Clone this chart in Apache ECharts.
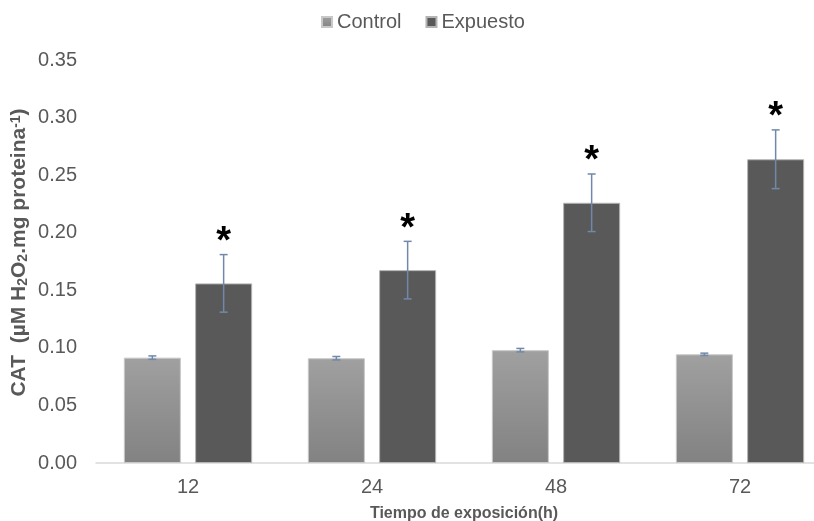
<!DOCTYPE html>
<html>
<head>
<meta charset="utf-8">
<script src="https://cdn.jsdelivr.net/npm/echarts@6/dist/echarts.min.js"></script>
<style>
  html, body { margin: 0; padding: 0; background: #ffffff; }
  #chart { width: 814px; height: 521px; }
</style>
</head>
<body>
<div id="chart"></div>
<script>
// Exposure times (h)
const categories = ['12', '24', '48', '72'];
// CAT activity (µM H2O2 . mg proteina^-1)
const controlValues = [0.0915, 0.0910, 0.0980, 0.0944];
const controlErrors = [0.0015, 0.0015, 0.0015, 0.0010];
const exposedValues = [0.156, 0.1675, 0.226, 0.2638];
const exposedErrors = [0.025, 0.025, 0.025, 0.0255];
// significance marks drawn above the exposed bars
const exposedMarks = ['*', '*', '*', '*'];
const yTicks = { min: 0, max: 0.35, interval: 0.05 };

const textColor = '#595959';
const errColor = '#7189a8';
const font = 'Arial, "Liberation Sans", Helvetica, sans-serif';

const BAR_W = 0.31;     // bar width as a share of the category band
const BAR_GAP = 0.25;   // gap between the two bars, as a share of bar width
const OFFSET = BAR_W / 2 + BAR_W * BAR_GAP / 2;

function errorSeries(values, errors, marks, sign) {
  const data = values.map((v, i) => [i, v - errors[i], v + errors[i], marks ? marks[i] : '']);
  return {
    type: 'custom',
    silent: true,
    z: 5,
    data: data,
    encode: { x: 0, y: [1, 2] },
    renderItem: function (params, api) {
      const i = api.value(0);
      const lo = api.coord([i, api.value(1)]);
      const hi = api.coord([i, api.value(2)]);
      const band = api.size([1, 0])[0];
      const x = lo[0] + sign * band * OFFSET;
      const cap = 4;
      const style = { stroke: errColor, lineWidth: 1.5 };
      const children = [
        { type: 'line', shape: { x1: x, y1: hi[1], x2: x, y2: lo[1] }, style: style },
        { type: 'line', shape: { x1: x - cap, y1: hi[1], x2: x + cap, y2: hi[1] }, style: style },
        { type: 'line', shape: { x1: x - cap, y1: lo[1], x2: x + cap, y2: lo[1] }, style: style }
      ];
      const mark = data[params.dataIndex][3];
      if (mark) {
        children.push({
          type: 'text',
          style: {
            text: mark, x: x, y: hi[1] - 31,
            fill: '#000000', font: 'bold 38px ' + font,
            textAlign: 'center', textVerticalAlign: 'top'
          }
        });
      }
      return { type: 'group', children: children };
    }
  };
}

const chart = echarts.init(document.getElementById('chart'), null, { renderer: 'canvas' });

chart.setOption({
  animation: false,
  backgroundColor: '#ffffff',
  textStyle: { fontFamily: font },
  legend: {
    top: 7,
    left: 316,
    itemWidth: 10,
    itemHeight: 10,
    itemGap: 24,
    icon: 'rect',
    textStyle: { fontSize: 20, color: textColor, fontFamily: font },
    data: ['Control', 'Expuesto']
  },
  grid: { left: 96, right: -18, top: 60, bottom: 58, containLabel: false, outerBoundsMode: 'none' },
  xAxis: {
    type: 'category',
    data: categories,
    name: 'Tiempo de exposición(h)',
    nameLocation: 'middle',
    nameGap: 43,
    nameTextStyle: { fontSize: 16, fontWeight: 'bold', color: textColor, fontFamily: font },
    axisLine: { show: true, lineStyle: { color: '#d9d9d9', width: 1.5 } },
    axisTick: { show: false },
    axisLabel: { fontSize: 20, color: textColor, margin: 14, fontFamily: font }
  },
  yAxis: {
    type: 'value',
    min: yTicks.min,
    max: yTicks.max,
    interval: yTicks.interval,
    name: '{b|CAT  (µM H}{sub|2}{b|O}{sub|2}{b|.mg proteina}{sup|-1}{b|)}',
    nameLocation: 'middle',
    nameRotate: 90,
    nameGap: 64,
    nameMoveOverlap: false,
    nameTextStyle: {
      color: textColor,
      padding: [0, 0, 0, 18],
      rich: {
        b: { fontSize: 21, fontWeight: 'bold', color: textColor, fontFamily: font, lineHeight: 26, verticalAlign: 'middle' },
        sub: { fontSize: 14, fontWeight: 'bold', color: textColor, fontFamily: font, lineHeight: 26, verticalAlign: 'bottom', padding: [0, 0, 2, 0] },
        sup: { fontSize: 14, fontWeight: 'bold', color: textColor, fontFamily: font, lineHeight: 26, verticalAlign: 'top', padding: [3, 0, 0, 0] }
      }
    },
    splitLine: { show: false },
    axisLine: { show: false },
    axisTick: { show: false },
    axisLabel: {
      fontSize: 20, color: textColor, margin: 19, fontFamily: font,
      formatter: v => v.toFixed(2)
    }
  },
  series: [
    {
      name: 'Control',
      type: 'bar',
      data: controlValues,
      barWidth: (BAR_W * 100) + '%',
      barGap: (BAR_GAP * 100) + '%',
      itemStyle: {
        color: new echarts.graphic.LinearGradient(0, 0, 0, 1, [
          { offset: 0, color: '#a0a0a0' },
          { offset: 1, color: '#828282' }
        ]),
        borderColor: '#c8c8c8',
        borderWidth: 1
      }
    },
    {
      name: 'Expuesto',
      type: 'bar',
      data: exposedValues,
      barWidth: (BAR_W * 100) + '%',
      barGap: (BAR_GAP * 100) + '%',
      itemStyle: { color: '#595959', borderColor: '#b4b4b4', borderWidth: 1 }
    },
    errorSeries(controlValues, controlErrors, null, -1),
    errorSeries(exposedValues, exposedErrors, exposedMarks, 1)
  ]
});
</script>
</body>
</html>
